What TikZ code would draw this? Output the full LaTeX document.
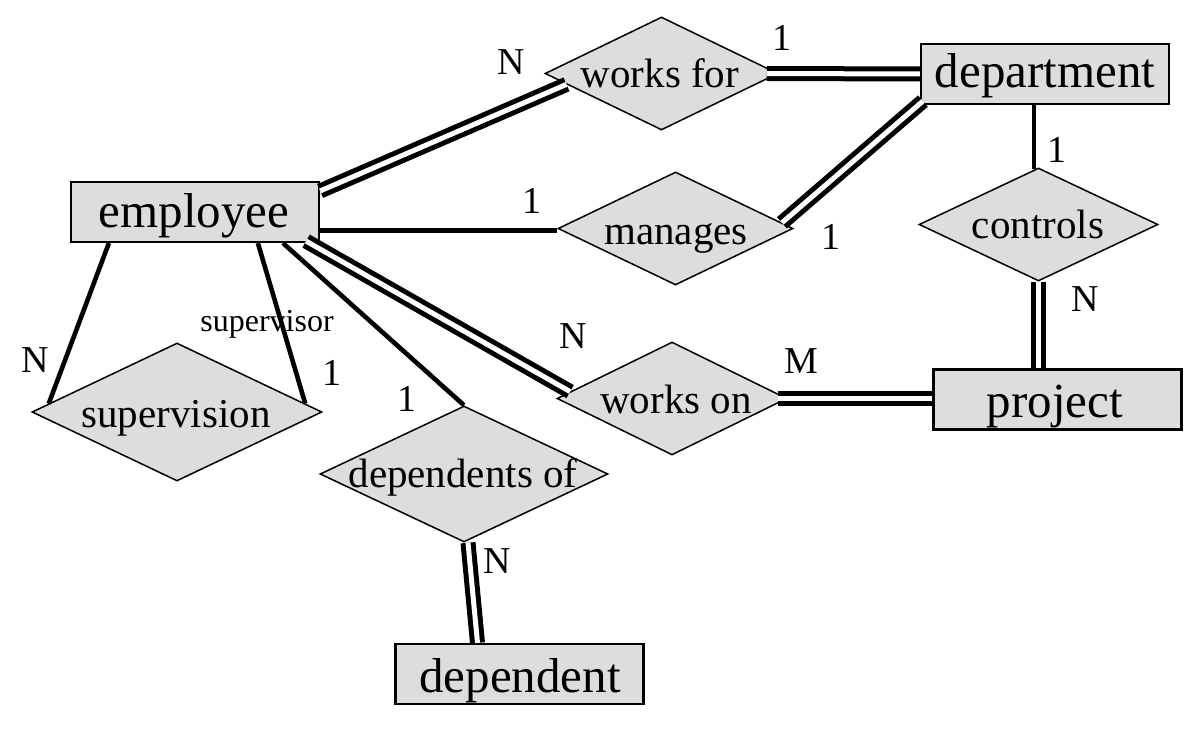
\documentclass[tikz,border=0pt]{standalone}
\usepackage{fontspec}
\setmainfont{Liberation Serif}
\usetikzlibrary{shapes.geometric,calc}
\definecolor{erfill}{RGB}{221,221,221}
\begin{document}
\begin{tikzpicture}[x=1bp,y=-1bp,
  entity/.style={draw, line width=2.2bp, fill=erfill, minimum width=248bp, minimum height=60bp, inner sep=0pt},
  rel/.style={draw, line width=1.5bp, fill=erfill, shape=diamond, inner sep=0pt},
  enttext/.style={anchor=base, inner sep=0pt, font=\fontsize{49bp}{50bp}\selectfont},
  reltext/.style={anchor=base, inner sep=0pt, font=\fontsize{41bp}{42bp}\selectfont},
  card/.style={inner sep=0pt, font=\fontsize{38bp}{40bp}\selectfont},
  role/.style={inner sep=0pt, font=\fontsize{32bp}{34bp}\selectfont},
  single/.style={line width=4.6bp},
  dbl/.style={double, double distance=5bp, line width=5bp}
]
\useasboundingbox (0,0) rectangle (1188,735);

% entities
\node[entity] (emp) at (195,212) {};
\node[enttext] (empT) at (194,228) {employee};
\node[entity] (dept) at (1045,74) {};
\node[enttext] (deptT) at (1045,88) {department};
\node[entity] (proj) at (1057.5,399.5) {};
\node[enttext] (projT) at (1055,417) {project};
\node[entity] (dnt) at (519.5,674) {};
\node[enttext] (dntT) at (520,692) {dependent};

% relationships
\node[rel, minimum width=233bp, minimum height=113bp] (wf) at (661.5,73.5) {};
\node[reltext] (wfT) at (660,88) {works for};
\node[rel, minimum width=235bp, minimum height=113bp] (mg) at (675.5,228.5) {};
\node[reltext] (mgT) at (676,244) {manages};
\node[rel, minimum width=230bp, minimum height=113bp] (wo) at (672,398.5) {};
\node[reltext] (woT) at (676,413) {works on};
\node[rel, minimum width=239bp, minimum height=113bp] (ctl) at (1038.5,224.5) {};
\node[reltext] (ctlT) at (1038,238) {controls};
\node[rel, minimum width=288bp, minimum height=136bp] (dep) at (464,474) {};
\node[reltext] (depT) at (463,487) {dependents of};
\node[rel, minimum width=290bp, minimum height=138bp] (sup) at (177,412) {};
\node[reltext] (supT) at (176,427) {supervision};

% connectors
\draw[dbl] ($(emp.east)+(0,-21)$) -- ($(wf.west)!0.19!(wf.south)$);
\draw[dbl] ($(wf.east)+(-12,0)$) -- (dept.west);
\coordinate (mgL) at ($(mg.west)+(0,2)$);
\draw[single] (emp.east |- mgL) -- (mgL);
\draw[dbl] ($(mg.east)!0.1!(mg.north)$) -- ($(dept.south west)+(3,-4)$);
\coordinate (ctlTop) at ($(ctl.north)+(-4.5,2)$);
\draw[single] (ctlTop |- dept.south) -- (ctlTop);
\draw[dbl] (ctl.south) -- (ctl.south |- proj.north);
\draw[dbl] ($(emp.south east)+(-14,-2)$) -- ($(wo.west)!0.12!(wo.north)$);
\draw[dbl] ($(wo.east)+(-10,0)$) -- (wo.east -| proj.west);
\draw[single] ($(emp.south)+(88,0)$) -- (dep.north);
\draw[dbl] ($(dep.south)+(4,0)$) -- ($(dnt.north)+(-42,0)$);
\draw[single] ($(emp.south west)+(39,0)$) -- ($(sup.west)!0.12!(sup.north)$);
\draw[single] ($(emp.south west)+(188,0)$) -- ($(sup.east)!0.12!(sup.north)$);

% cardinalities
\node[card] (c1) at (511,62) {N};
\node[card] (c2) at (782,38) {1};
\node[card] (c3) at (532,201) {1};
\node[card] (c4) at (831,237) {1};
\node[card] (c5) at (1057,150) {1};
\node[card] (c6) at (1085,299) {N};
\node[card] (c7) at (573,336) {N};
\node[card] (c8) at (801,361) {M};
\node[card] (c9) at (35,360) {N};
\node[card] (c10) at (332,373) {1};
\node[card] (c11) at (407,399) {1};
\node[card] (c12) at (497,561) {N};
\node[role] (r1) at (267,324) {supervisor};
\end{tikzpicture}
\end{document}
